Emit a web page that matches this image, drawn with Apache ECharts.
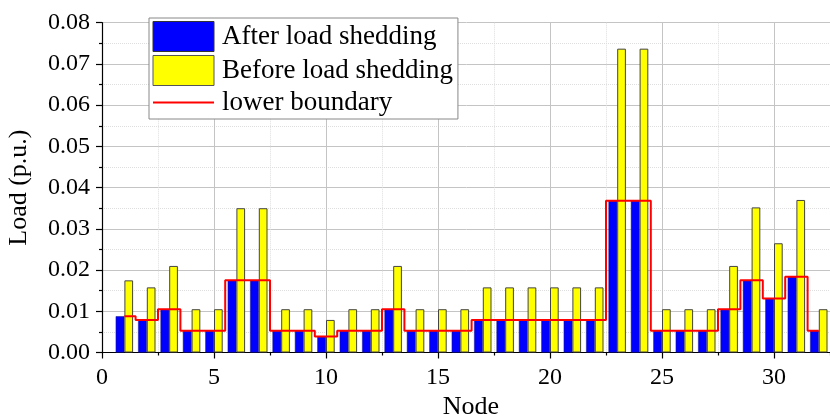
<!DOCTYPE html>
<html>
<head>
<meta charset="utf-8">
<script src="https://cdn.jsdelivr.net/npm/echarts@6/dist/echarts.min.js"></script>
<style>html,body{margin:0;padding:0;background:#fff;}#c{width:830px;height:420px;}</style>
</head>
<body>
<div id="c"></div>
<script>
const nodes = [1,2,3,4,5,6,7,8,9,10,11,12,13,14,15,16,17,18,19,20,21,22,23,24,25,26,27,28,29,30,31,32];
const beforeShedding = [0.0175,0.0158,0.021,0.0105,0.0105,0.035,0.035,0.0105,0.0105,0.0079,0.0105,0.0105,0.021,0.0105,0.0105,0.0105,0.0158,0.0158,0.0158,0.0158,0.0158,0.0158,0.0737,0.0737,0.0105,0.0105,0.0105,0.021,0.0352,0.0265,0.037,0.0105];
const afterShedding = [0.0088,0.0079,0.0105,0.0053,0.0053,0.0175,0.0175,0.0053,0.0053,0.0039,0.0053,0.0053,0.0105,0.0053,0.0053,0.0053,0.0079,0.0079,0.0079,0.0079,0.0079,0.0079,0.0368,0.0368,0.0053,0.0053,0.0053,0.0105,0.0175,0.0131,0.0184,0.0053];
const lowerBoundary = [0.0088,0.0079,0.0105,0.0053,0.0053,0.0175,0.0175,0.0053,0.0053,0.0039,0.0053,0.0053,0.0105,0.0053,0.0053,0.0053,0.0079,0.0079,0.0079,0.0079,0.0079,0.0079,0.0368,0.0368,0.0053,0.0053,0.0053,0.0105,0.0175,0.0131,0.0184,0.0053];
const xTicks = [0,5,10,15,20,25,30];
const yTicks = [0.00,0.01,0.02,0.03,0.04,0.05,0.06,0.07,0.08];

const pair = arr => nodes.map((n,i)=>[n,arr[i]]);
const font = '"Liberation Serif","Times New Roman",serif';
const chart = echarts.init(document.getElementById('c'), null, {renderer:'canvas'});
chart.setOption({
  animation:false,
  backgroundColor:'#fff',
  grid:{left:102, top:22.7, bottom:67.5, right:-56, containLabel:false, outerBoundsMode:'none'},
  legend:{
    left:149, top:18, orient:'vertical',
    padding:[3,5,3,3], itemWidth:61, itemHeight:30, itemGap:3,
    borderColor:'#888', borderWidth:1, backgroundColor:'#fff',
    textStyle:{fontFamily:font, fontSize:27, color:'#000', padding:[0,0,0,3]},
    data:[
      {name:'After load shedding', icon:'rect', itemStyle:{borderColor:'#333', borderWidth:1}},
      {name:'Before load shedding', icon:'rect', itemStyle:{borderColor:'#555', borderWidth:1}},
      {name:'lower boundary', itemStyle:{color:'transparent', borderColor:'transparent', borderWidth:0, opacity:0}}
    ]
  },
  xAxis:{
    type:'value', min:0, max:35, interval:5,
    name:'Node', nameLocation:'middle', nameGap:38,
    nameTextStyle:{fontFamily:font, fontSize:26, color:'#000', padding:[0,46,0,0]},
    axisLine:{show:true, onZero:false, lineStyle:{color:'#000', width:1.2}},
    axisTick:{show:true, inside:false, length:6, lineStyle:{color:'#000', width:1.2}},
    minorTick:{show:true, splitNumber:2, length:3, lineStyle:{color:'#000', width:1.2}},
    axisLabel:{fontFamily:font, fontSize:24, color:'#000', margin:13,
      formatter:v=> xTicks.includes(v) ? String(v) : ''},
    splitLine:{show:true, lineStyle:{color:'#c4c4c4', width:1}},
    minorSplitLine:{show:true, lineStyle:{color:'#dedede', width:1, type:'dotted'}}
  },
  yAxis:{
    type:'value', min:0, max:0.08, interval:0.01,
    name:'Load (p.u.)', nameLocation:'middle', nameGap:70,
    nameTextStyle:{fontFamily:font, fontSize:26, color:'#000'},
    axisLine:{show:true, lineStyle:{color:'#000', width:1.2}},
    axisTick:{show:true, inside:false, length:6, lineStyle:{color:'#000', width:1.2}},
    minorTick:{show:true, splitNumber:2, length:3, lineStyle:{color:'#000', width:1.2}},
    axisLabel:{fontFamily:font, fontSize:24, color:'#000', margin:12,
      formatter:v=>{const t=yTicks.find(y=>Math.abs(y-v)<1e-9); return t===undefined?'':t.toFixed(2);}},
    splitLine:{show:true, lineStyle:{color:'#c4c4c4', width:1}},
    minorSplitLine:{show:true, lineStyle:{color:'#dedede', width:1, type:'dotted'}}
  },
  series:[
    {name:'After load shedding', type:'bar', data:pair(afterShedding), barWidth:8.7, barGap:'0%',
     itemStyle:{color:'#0000ff', borderColor:'#1a1a80', borderWidth:0.5}},
    {name:'Before load shedding', type:'bar', data:pair(beforeShedding), barWidth:8.7, barGap:'0%',
     itemStyle:{color:'#ffff00', borderColor:'#444', borderWidth:1}},
    {name:'lower boundary', type:'line', step:'middle', data:pair(lowerBoundary), symbol:'none', z:5,
     lineStyle:{color:'#ff0000', width:2}, itemStyle:{color:'#ff0000'}}
  ]
});
</script>
</body>
</html>
